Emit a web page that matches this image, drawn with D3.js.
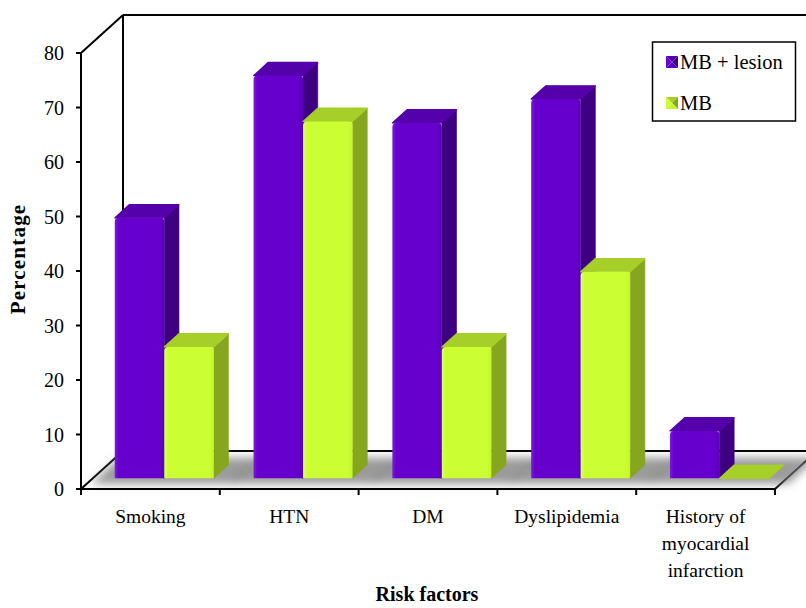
<!DOCTYPE html>
<html>
<head>
<meta charset="utf-8">
<script src="https://cdn.jsdelivr.net/npm/d3@7"></script>
<style>
  html, body { margin: 0; padding: 0; background: #ffffff; }
  svg { display: block; }
  text { font-family: "Liberation Serif", "Times New Roman", serif; fill: #000; }
</style>
</head>
<body>
<svg id="chart" width="806" height="608"></svg>
<script>
// Risk factor prevalence (%) in the two patient groups
const categories = ["Smoking", "HTN", "DM", "Dyslipidemia", "History of myocardial infarction"];
const categoryLines = [["Smoking"], ["HTN"], ["DM"], ["Dyslipidemia"], ["History of", "myocardial", "infarction"]];
const seriesNames = ["MB + lesion", "MB"];
const mbLesion = [47.8, 73.9, 65.2, 69.6, 8.7];
const mbOnly = [24.1, 65.5, 24.1, 37.9, 0];
const yTicks = [0, 10, 20, 30, 40, 50, 60, 70, 80];

const seriesValues = [mbLesion, mbOnly];
const palette = [
  { front: "#6600cc", frontDark: "#5a00b8", top: "#5400ab", side: "#3d0080", light: "#7a1ae0" },
  { front: "#ccff33", frontDark: "#c2f52c", top: "#a6cf2a", side: "#86a61f", light: "#dcff66" }
];

const svg = d3.select("#chart");

// Plot frame: front plane and the depth vector of the 3D box
const x0 = 81, x1 = 775;
const depth = { dx: 42, dy: -38 };
const y = d3.scaleLinear().domain([0, 80]).range([489, 53]);
const xBand = d3.scaleBand().domain(categories).range([x0, x1]).padding(0);
const xInner = d3.scaleBand().domain(seriesNames).range([22, 121]).padding(0);

// Bars occupy a slab in the middle of the box depth
const fFront = 0.28, fBack = 0.63;

function proj(xf, v, f) {
  return [xf + f * depth.dx, y(v) + f * depth.dy];
}
const pts = arr => arr.map(p => p.join(",")).join(" ");

const defs = svg.append("defs");
defs.append("filter").attr("id", "floorShadow")
  .attr("x", "-30%").attr("y", "-80%").attr("width", "160%").attr("height", "260%")
  .append("feGaussianBlur").attr("stdDeviation", 4);

palette.forEach((c, i) => {
  const g = defs.append("linearGradient").attr("id", "front" + i)
    .attr("x1", 0).attr("y1", 0).attr("x2", 1).attr("y2", 0);
  g.append("stop").attr("offset", "0%").attr("stop-color", c.light);
  g.append("stop").attr("offset", "8%").attr("stop-color", c.front);
  g.append("stop").attr("offset", "90%").attr("stop-color", c.front);
  g.append("stop").attr("offset", "100%").attr("stop-color", c.frontDark);
});

// Back wall and left wall outlines
const wall = svg.append("g").attr("stroke", "#000").attr("stroke-width", 2).attr("fill", "none");
const backTopL = proj(x0, 80, 1), backBotL = proj(x0, 0, 1);
const backTopR = proj(x1, 80, 1), backBotR = proj(x1, 0, 1);
wall.append("line").attr("x1", backTopL[0]).attr("y1", backTopL[1]).attr("x2", backTopR[0]).attr("y2", backTopR[1]);
wall.append("line").attr("x1", backTopL[0]).attr("y1", backTopL[1]).attr("x2", backBotL[0]).attr("y2", backBotL[1]);
wall.append("line").attr("x1", backBotL[0]).attr("y1", backBotL[1]).attr("x2", backBotR[0]).attr("y2", backBotR[1]);
wall.append("line").attr("x1", x0).attr("y1", y(80)).attr("x2", backTopL[0]).attr("y2", backTopL[1]);

// Soft shadows cast on the floor around each bar group
const shadowG = svg.append("g").attr("filter", "url(#floorShadow)");
categories.forEach(cat => {
  const a = xBand(cat) + 4, b = xBand(cat) + 146;
  shadowG.append("polygon")
    .attr("points", pts([proj(a, 0, 0.14), proj(b, 0, 0.14), proj(b, 0, 0.82), proj(a, 0, 0.82)]))
    .attr("fill", "#7a7a7a").attr("opacity", 0.75);
});

// Floor edges: front baseline and the two depth diagonals
wall.append("line").attr("x1", x0).attr("y1", y(0)).attr("x2", backBotL[0]).attr("y2", backBotL[1]);
wall.append("line").attr("x1", x1).attr("y1", y(0)).attr("x2", backBotR[0]).attr("y2", backBotR[1]);

// Bars, drawn left to right so neighbours overlap side faces correctly
const bars = svg.append("g");
const r = 4;
categories.forEach((cat, ci) => {
  seriesNames.forEach((s, si) => {
    const v = seriesValues[si][ci];
    const c = palette[si];
    const xa = xBand(cat) + xInner(s), xb = xa + xInner.bandwidth();
    const g = bars.append("g");
    // side face
    g.append("polygon")
      .attr("points", pts([proj(xb, 0, fFront), proj(xb, v, fFront), proj(xb, v, fBack), proj(xb, 0, fBack)]))
      .attr("fill", c.side).attr("stroke", c.side).attr("stroke-width", 0.6).attr("stroke-linejoin", "round");
    // top face
    g.append("polygon")
      .attr("points", pts([proj(xa, v, fFront), proj(xb, v, fFront), proj(xb, v, fBack), proj(xa, v, fBack)]))
      .attr("fill", c.top).attr("stroke", c.top).attr("stroke-width", 1.2).attr("stroke-linejoin", "round");
    // front face with softened top corners
    const p0 = proj(xa, v, fFront), p1 = proj(xb, 0, fFront);
    const h = p1[1] - p0[1];
    if (h > 0.5) {
      const rr = Math.min(r, h / 2);
      const path = d3.path();
      path.moveTo(p0[0], p1[1]);
      path.lineTo(p0[0], p0[1] + rr);
      path.quadraticCurveTo(p0[0], p0[1], p0[0] + rr, p0[1]);
      path.lineTo(p1[0] - rr, p0[1]);
      path.quadraticCurveTo(p1[0], p0[1], p1[0], p0[1] + rr);
      path.lineTo(p1[0], p1[1]);
      path.closePath();
      g.append("path").attr("d", path.toString()).attr("fill", "url(#front" + si + ")");
    }
  });
});

// Front axes
const axis = svg.append("g").attr("stroke", "#000").attr("stroke-width", 2);
axis.append("line").attr("x1", x0).attr("y1", y(80) - 1).attr("x2", x0).attr("y2", y(0) + 1);
axis.append("line").attr("x1", x0 - 1).attr("y1", y(0)).attr("x2", x1).attr("y2", y(0));
axis.selectAll("line.ytick").data(yTicks).join("line").attr("class", "ytick")
  .attr("x1", x0 - 5).attr("x2", x0).attr("y1", d => y(d)).attr("y2", d => y(d));
const xTickPos = categories.map(c => xBand(c)).concat([x1]);
axis.selectAll("line.xtick").data(xTickPos).join("line").attr("class", "xtick")
  .attr("x1", d => d).attr("x2", d => d).attr("y1", y(0)).attr("y2", y(0) + 6);

// Y tick labels
svg.append("g").selectAll("text").data(yTicks).join("text")
  .attr("x", 64).attr("y", d => y(d) + 7)
  .attr("text-anchor", "end").attr("font-size", 20)
  .text(d => d);

// Category labels
const catLabels = svg.append("g");
categories.forEach((cat, i) => {
  const cx = xBand(cat) + xBand.bandwidth() / 2;
  const t = catLabels.append("text")
    .attr("x", cx).attr("y", 523).attr("text-anchor", "middle").attr("font-size", 19.5);
  categoryLines[i].forEach((line, li) => {
    t.append("tspan").attr("x", cx).attr("dy", li === 0 ? 0 : 27).text(line);
  });
});

// Axis titles
svg.append("text").attr("x", 427).attr("y", 601)
  .attr("text-anchor", "middle").attr("font-size", 20).attr("font-weight", "bold")
  .text("Risk factors");
svg.append("text")
  .attr("transform", "translate(25,259) rotate(-90)")
  .attr("text-anchor", "middle").attr("font-size", 21).attr("font-weight", "bold")
  .attr("letter-spacing", 1.2)
  .text("Percentage");

// Legend
const legend = svg.append("g");
legend.append("rect").attr("x", 652.5).attr("y", 42).attr("width", 143).attr("height", 79)
  .attr("fill", "#fff").attr("stroke", "#000").attr("stroke-width", 1.5);
seriesNames.forEach((s, i) => {
  const c = palette[i];
  const mx = 666, my = i === 0 ? 56 : 97, ms = 12;
  const g = legend.append("g");
  const cx = mx + ms / 2, cy = my + ms / 2;
  g.append("polygon").attr("points", pts([[mx, my], [mx + ms, my], [cx, cy]])).attr("fill", c.top);
  g.append("polygon").attr("points", pts([[mx + ms, my], [mx + ms, my + ms], [cx, cy]])).attr("fill", c.side);
  g.append("polygon").attr("points", pts([[mx, my + ms], [mx + ms, my + ms], [cx, cy]])).attr("fill", c.frontDark);
  g.append("polygon").attr("points", pts([[mx, my], [mx, my + ms], [cx, cy]])).attr("fill", c.front);
  legend.append("text").attr("x", 680).attr("y", my + 12.5).attr("font-size", 20.5).text(s);
});
</script>
</body>
</html>
